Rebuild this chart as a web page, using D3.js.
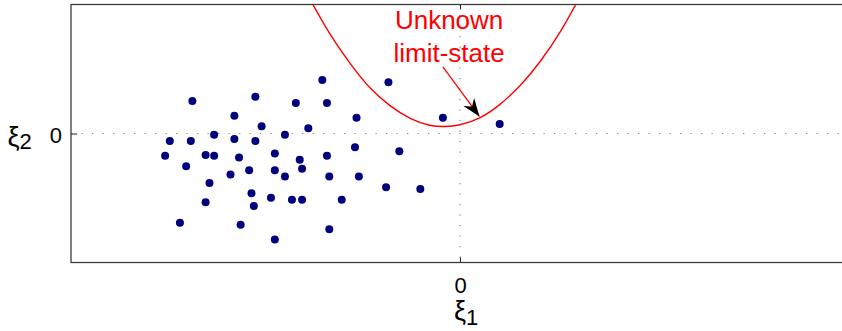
<!DOCTYPE html>
<html>
<head>
<meta charset="utf-8">
<script src="https://cdn.jsdelivr.net/npm/d3@7"></script>
<style>
  html, body { margin: 0; padding: 0; background: #fff; }
  svg { display: block; font-family: "Liberation Sans", Arial, sans-serif; }
</style>
</head>
<body>
<svg id="chart" width="842" height="331"></svg>
<script>
// Monte Carlo samples in the standard space (xi1, xi2)
const sampleXi1 = [-1.77, -0.92, -3.44, -2.63, -2.11, -1.71, -2.90, -1.33, -2.55, -1.95,
                   -3.16, -2.25, -3.73, -3.46, -2.90, -2.63, -3.79, -3.27, -3.16, -2.38,
                   -2.84, -2.06, -1.71, -1.35, -0.78, -3.52, -2.71, -2.38, -2.03, -2.95,
                   -2.25, -1.68, -1.30, -3.22, -0.95, -0.51, -2.68, -2.43, -2.16, -2.03,
                   -1.52, -3.27, -2.65, -3.60, -2.82, -1.68, -2.38, -0.22, 0.51];
const sampleXi2 = [2.07, 1.99, 1.26, 1.42, 1.18, 1.18, 0.69, 0.61, 0.28, 0.20,
                   -0.05, -0.05, -0.29, -0.29, -0.21, -0.29, -0.86, -0.83, -0.86, -0.78,
                   -0.93, -1.02, -0.86, -0.53, -0.69, -1.27, -1.42, -1.42, -1.37, -1.59,
                   -1.67, -1.67, -1.67, -1.92, -2.08, -2.15, -2.32, -2.49, -2.57, -2.57,
                   -2.57, -2.66, -2.81, -3.46, -3.54, -3.71, -4.11, 0.61, 0.37];

// Points along the limit-state curve g(xi) = 0
const limitXi1 = [-1.93, -1.67, -1.41, -1.16, -0.90, -0.64, -0.39, -0.19, 0.00, 0.26, 0.51, 0.77, 1.03, 1.29, 1.52];
const limitXi2 = [5.21, 3.85, 2.71, 1.78, 1.08, 0.59, 0.32, 0.27, 0.34, 0.62, 1.12, 1.85, 2.79, 3.95, 5.18];

// Annotation: label lines and arrow (from, to) in data units
const noteLines = ["Unknown", "limit-state"];
const noteAnchor = [-0.14, 4.06];
const arrowFrom = [-0.22, 2.58];
const arrowTo = [0.25, 0.66];

// Axis domains and ticks
const xDomain = [-5, 5];
const yDomain = [-5, 5];
const xTicks = [0];
const yTicks = [0];

const svg = d3.select("#chart");
const plotLeft = 71, plotRight = 849, plotTop = 4.5, plotBottom = 262.5;

const x = d3.scaleLinear().domain(xDomain).range([plotLeft, plotRight]);
const y = d3.scaleLinear().domain(yDomain).range([plotBottom, plotTop]);

const defs = svg.append("defs");
defs.append("clipPath").attr("id", "plotClip")
  .append("rect").attr("x", plotLeft).attr("y", plotTop)
  .attr("width", plotRight - plotLeft).attr("height", plotBottom - plotTop);

// zero reference lines
const grid = svg.append("g").attr("stroke", "#8c8c8c").attr("stroke-width", 1.2)
  .attr("stroke-dasharray", "1.3,9.2");
grid.append("line").attr("x1", plotLeft).attr("x2", plotRight)
  .attr("y1", y(0)).attr("y2", y(0));
grid.append("line").attr("x1", x(0)).attr("x2", x(0))
  .attr("y1", plotTop).attr("y2", plotBottom);

// axes with inward ticks
const tickFont = g => g.selectAll("text")
  .attr("font-size", 22).attr("fill", "#000")
  .attr("font-family", "'Liberation Sans', Arial, sans-serif");

svg.append("g").attr("transform", `translate(0,${plotBottom})`)
  .call(d3.axisBottom(x).tickValues(xTicks).tickSizeInner(-5).tickSizeOuter(0).tickPadding(14.5))
  .call(g => g.select(".domain").remove())
  .call(g => g.selectAll("line").attr("stroke", "#222"))
  .call(tickFont);

svg.append("g").attr("transform", `translate(0,${plotTop})`)
  .call(d3.axisTop(x).tickValues(xTicks).tickSizeInner(-5).tickSizeOuter(0).tickFormat(""))
  .call(g => g.select(".domain").remove())
  .call(g => g.selectAll("line").attr("stroke", "#222"));

svg.append("g").attr("transform", `translate(${plotLeft},0)`)
  .call(d3.axisLeft(y).tickValues(yTicks).tickSizeInner(-6).tickSizeOuter(0).tickPadding(9))
  .call(g => g.select(".domain").remove())
  .call(g => g.selectAll("line").attr("stroke", "#222"))
  .call(tickFont)
  .call(g => g.selectAll("text").attr("dy", "0.42em"));

// frame
svg.append("rect").attr("x", plotLeft).attr("y", plotTop)
  .attr("width", plotRight - plotLeft).attr("height", plotBottom - plotTop)
  .attr("fill", "none").attr("stroke", "#3c3c3c").attr("stroke-width", 1.3);

// limit-state curve
const curvePts = limitXi1.map((v, i) => [v, limitXi2[i]]);
svg.append("path")
  .datum(curvePts)
  .attr("clip-path", "url(#plotClip)")
  .attr("fill", "none").attr("stroke", "#ff0000").attr("stroke-width", 1.4)
  .attr("d", d3.line().x(d => x(d[0])).y(d => y(d[1])).curve(d3.curveNatural));

// samples
const samples = sampleXi1.map((v, i) => [v, sampleXi2[i]]);
svg.append("g").attr("fill", "#00007f")
  .selectAll("circle").data(samples).join("circle")
  .attr("cx", d => x(d[0])).attr("cy", d => y(d[1])).attr("r", 4);

// annotation arrow
defs.append("marker")
  .attr("id", "head").attr("markerUnits", "userSpaceOnUse")
  .attr("viewBox", "-19 -8 20 16").attr("markerWidth", 20).attr("markerHeight", 16)
  .attr("refX", 0).attr("refY", 0).attr("orient", "auto")
  .append("path").attr("d", "M0,0L-18,-6.7L-12.5,0L-18,6.7Z").attr("fill", "#000");

svg.append("line")
  .attr("x1", x(arrowFrom[0])).attr("y1", y(arrowFrom[1]))
  .attr("x2", x(arrowTo[0])).attr("y2", y(arrowTo[1]))
  .attr("stroke", "#ff0000").attr("stroke-width", 1.3)
  .attr("marker-end", "url(#head)");

const note = svg.append("text")
  .attr("text-anchor", "middle").attr("fill", "#ff0000").attr("font-size", 26);
noteLines.forEach((t, i) => {
  note.append("tspan").attr("x", x(noteAnchor[0]))
    .attr("y", y(noteAnchor[1]) + i * 33.4).text(t);
});

// axis labels
const xl = svg.append("text").attr("x", x(0) - 6).attr("y", 319.5)
  .attr("font-size", 27).attr("fill", "#000");
xl.append("tspan").text("ξ");
xl.append("tspan").attr("font-size", 22).attr("dy", 5.5).text("1");

const yl = svg.append("text").attr("x", 7.5).attr("y", 145.5)
  .attr("font-size", 27).attr("fill", "#000");
yl.append("tspan").text("ξ");
yl.append("tspan").attr("font-size", 22).attr("dy", 3.5).text("2");
</script>
</body>
</html>
